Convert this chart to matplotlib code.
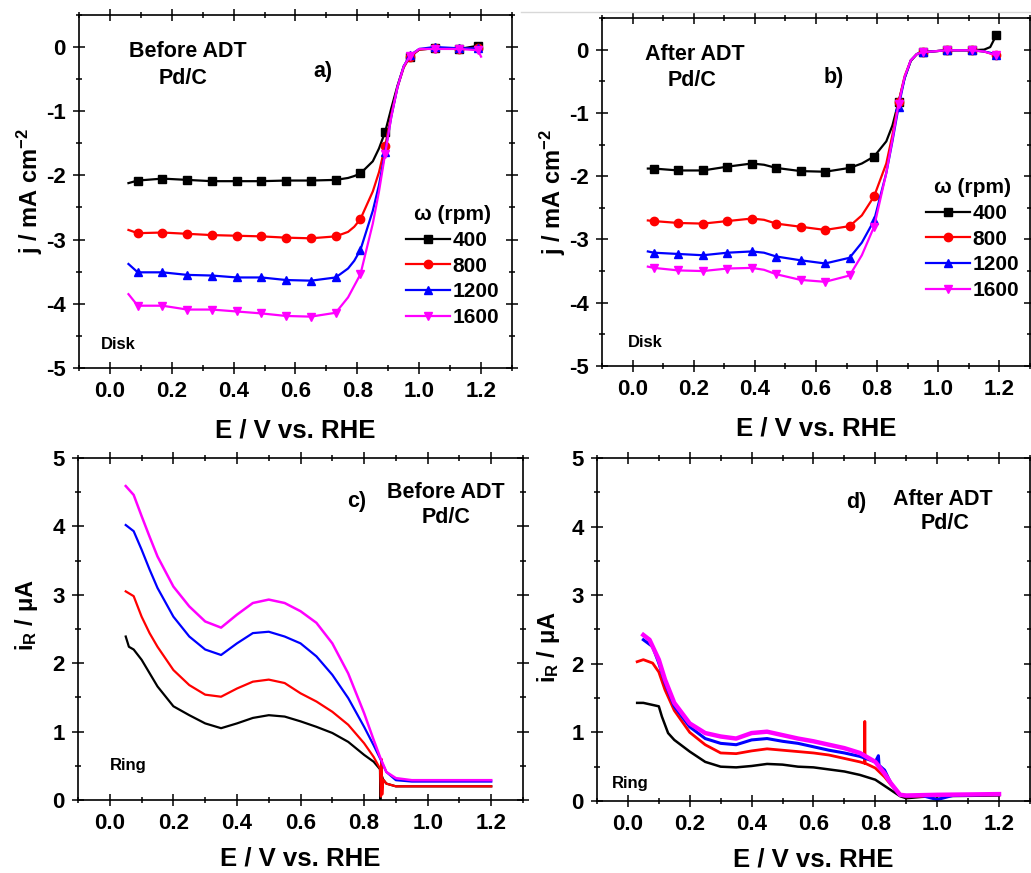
import numpy as np
import matplotlib
matplotlib.use("Agg")
import matplotlib.pyplot as plt
from matplotlib.ticker import MultipleLocator
from matplotlib.lines import Line2D

plt.rcParams['font.family'] = ['Liberation Sans', 'DejaVu Sans']
plt.rcParams['font.weight'] = 'bold'
plt.rcParams['axes.labelweight'] = 'bold'
plt.rcParams['mathtext.fontset'] = 'custom'
plt.rcParams['mathtext.rm'] = 'Liberation Sans:bold'
plt.rcParams['mathtext.bf'] = 'Liberation Sans:bold'
plt.rcParams['mathtext.it'] = 'Liberation Sans:bold'

rpm_labels = ['400', '800', '1200', '1600']
colors = ['black', 'red', 'blue', 'magenta']
markers = ['s', 'o', '^', 'v']

# ---- disk currents before ADT (panel a) ----
a_mx = [0.09, 0.17, 0.25, 0.33, 0.41, 0.49, 0.57, 0.65, 0.73, 0.81, 0.89, 0.97, 1.05, 1.13, 1.19]
a_my_400 = [-2.08, -2.05, -2.07, -2.09, -2.09, -2.09, -2.08, -2.08, -2.07, -1.97, -1.32, -0.15, -0.02, -0.03, 0.02]
a_my_800 = [-2.90, -2.89, -2.91, -2.93, -2.94, -2.95, -2.97, -2.98, -2.95, -2.68, -1.54, -0.15, -0.02, -0.03, -0.02]
a_my_1200 = [-3.51, -3.51, -3.55, -3.56, -3.59, -3.59, -3.63, -3.64, -3.59, -3.16, -1.63, -0.13, 0.0, -0.02, -0.02]
a_my_1600 = [-4.03, -4.03, -4.09, -4.09, -4.12, -4.15, -4.19, -4.20, -4.14, -3.54, -1.66, -0.14, -0.03, -0.03, -0.05]

a_lx = [0.06, 0.09, 0.17, 0.25, 0.33, 0.41, 0.49, 0.57, 0.65, 0.73, 0.77, 0.79, 0.81, 0.85, 0.87,
        0.89, 0.91, 0.93, 0.95, 0.97, 1.00, 1.05, 1.13, 1.19, 1.20]
a_ly_400 = [-2.12, -2.08, -2.05, -2.07, -2.09, -2.09, -2.09, -2.08, -2.08, -2.07, -2.04, -2.01, -1.97, -1.78, -1.58,
            -1.32, -0.95, -0.60, -0.30, -0.15, -0.04, -0.02, -0.03, 0.02, 0.02]
a_ly_800 = [-2.85, -2.90, -2.89, -2.91, -2.93, -2.94, -2.95, -2.97, -2.98, -2.95, -2.88, -2.80, -2.68, -2.25, -1.95,
            -1.54, -1.05, -0.62, -0.32, -0.15, -0.04, -0.02, -0.03, -0.02, -0.03]
a_ly_1200 = [-3.38, -3.51, -3.51, -3.55, -3.56, -3.59, -3.59, -3.63, -3.64, -3.59, -3.45, -3.33, -3.16, -2.55, -2.15,
             -1.63, -1.08, -0.62, -0.30, -0.13, -0.03, 0.0, -0.02, -0.02, -0.03]
a_ly_1600 = [-3.85, -4.03, -4.03, -4.09, -4.09, -4.12, -4.15, -4.19, -4.20, -4.14, -3.90, -3.72, -3.54, -2.75, -2.25,
             -1.66, -1.08, -0.62, -0.30, -0.14, -0.03, -0.03, -0.03, -0.05, -0.15]

# ---- disk currents after ADT (panel b) ----
b_mx = [0.07, 0.15, 0.23, 0.31, 0.39, 0.47, 0.55, 0.63, 0.71, 0.79, 0.87, 0.95, 1.03, 1.11, 1.19]
b_my_400 = [-1.88, -1.91, -1.91, -1.85, -1.80, -1.87, -1.92, -1.93, -1.87, -1.69, -0.83, -0.04, -0.01, -0.01, 0.23]
b_my_800 = [-2.71, -2.74, -2.75, -2.71, -2.67, -2.75, -2.80, -2.85, -2.79, -2.32, -0.83, -0.04, -0.01, -0.01, -0.09]
b_my_1200 = [-3.21, -3.23, -3.25, -3.21, -3.19, -3.27, -3.33, -3.38, -3.29, -2.70, -0.91, -0.04, -0.01, -0.01, -0.08]
b_my_1600 = [-3.45, -3.49, -3.50, -3.46, -3.45, -3.55, -3.64, -3.67, -3.57, -2.80, -0.86, -0.04, -0.01, -0.01, -0.09]

b_lx = [0.05, 0.07, 0.15, 0.23, 0.31, 0.39, 0.43, 0.47, 0.55, 0.63, 0.71, 0.75, 0.79, 0.83, 0.85,
        0.87, 0.89, 0.91, 0.93, 0.95, 1.03, 1.11, 1.15, 1.17, 1.19]
b_ly_400 = [-1.88, -1.88, -1.91, -1.91, -1.85, -1.80, -1.82, -1.87, -1.92, -1.93, -1.87, -1.80, -1.69, -1.45, -1.20,
            -0.83, -0.45, -0.18, -0.07, -0.04, -0.01, -0.01, 0.0, 0.04, 0.23]
b_ly_800 = [-2.70, -2.71, -2.74, -2.75, -2.71, -2.67, -2.69, -2.75, -2.80, -2.85, -2.79, -2.62, -2.32, -1.80, -1.35,
            -0.83, -0.42, -0.17, -0.07, -0.04, -0.01, -0.01, -0.03, -0.06, -0.09]
b_ly_1200 = [-3.19, -3.21, -3.23, -3.25, -3.21, -3.19, -3.21, -3.27, -3.33, -3.38, -3.29, -3.05, -2.70, -1.95, -1.45,
             -0.91, -0.45, -0.17, -0.07, -0.04, -0.01, -0.01, -0.03, -0.05, -0.08]
b_ly_1600 = [-3.43, -3.45, -3.49, -3.50, -3.46, -3.45, -3.48, -3.55, -3.64, -3.67, -3.57, -3.25, -2.80, -1.95, -1.42,
             -0.86, -0.43, -0.17, -0.07, -0.04, -0.01, -0.01, -0.03, -0.06, -0.09]

# ---- ring currents before ADT (panel c) ----
c_x = [0.05, 0.075, 0.10, 0.125, 0.15, 0.20, 0.25, 0.30, 0.35, 0.40, 0.45, 0.50, 0.55, 0.60,
       0.65, 0.70, 0.75, 0.80, 0.83, 0.85, 0.87, 0.90, 0.95, 1.00, 1.10, 1.20]
c_y_1600 = [4.59, 4.46, 4.15, 3.85, 3.56, 3.12, 2.83, 2.61, 2.52, 2.71, 2.88, 2.93, 2.88, 2.76,
            2.59, 2.29, 1.85, 1.27, 0.88, 0.63, 0.41, 0.32, 0.29, 0.29, 0.29, 0.29]
c_y_1200 = [4.02, 3.93, 3.66, 3.37, 3.10, 2.68, 2.39, 2.20, 2.12, 2.29, 2.44, 2.46, 2.39, 2.29,
            2.10, 1.83, 1.49, 1.07, 0.80, 0.61, 0.41, 0.29, 0.27, 0.27, 0.27, 0.27]
c_x_800 = [0.05, 0.075, 0.10, 0.125, 0.15, 0.20, 0.25, 0.30, 0.35, 0.40, 0.45, 0.50, 0.55, 0.60,
           0.65, 0.70, 0.75, 0.80, 0.83, 0.85, 0.853, 0.855, 0.857, 0.86, 0.87, 0.90, 1.00, 1.10, 1.20]
c_y_800 = [3.05, 2.98, 2.68, 2.44, 2.24, 1.90, 1.68, 1.54, 1.51, 1.63, 1.73, 1.76, 1.71, 1.56,
           1.44, 1.29, 1.10, 0.83, 0.63, 0.46, 0.05, 0.60, 0.08, 0.30, 0.24, 0.20, 0.20, 0.20, 0.20]
c_x_400 = [0.05, 0.06, 0.075, 0.10, 0.15, 0.20, 0.25, 0.30, 0.35, 0.40, 0.45, 0.50, 0.55, 0.60,
           0.65, 0.70, 0.75, 0.80, 0.83, 0.85, 0.851, 0.852, 0.86, 0.87, 0.90, 1.00, 1.10, 1.20]
c_y_400 = [2.39, 2.24, 2.20, 2.05, 1.66, 1.37, 1.24, 1.12, 1.05, 1.12, 1.20, 1.24, 1.22, 1.15,
           1.07, 0.98, 0.85, 0.66, 0.56, 0.45, 0.0, 0.40, 0.30, 0.24, 0.20, 0.20, 0.20, 0.20]

# ---- ring currents after ADT (panel d) ----
d_x_400 = [0.03, 0.05, 0.08, 0.10, 0.11, 0.13, 0.15, 0.20, 0.25, 0.30, 0.35, 0.40, 0.45, 0.50,
           0.55, 0.60, 0.65, 0.70, 0.75, 0.80, 0.85, 0.88, 0.90, 0.95, 1.00, 1.20]
d_y_400 = [1.43, 1.43, 1.40, 1.38, 1.23, 0.99, 0.89, 0.72, 0.57, 0.50, 0.49, 0.51, 0.54, 0.53,
           0.50, 0.49, 0.46, 0.43, 0.38, 0.31, 0.16, 0.07, 0.04, 0.06, 0.07, 0.08]
d_x_800 = [0.03, 0.05, 0.08, 0.10, 0.12, 0.15, 0.20, 0.25, 0.30, 0.35, 0.40, 0.45, 0.50, 0.55,
           0.60, 0.65, 0.70, 0.75, 0.765, 0.766, 0.767, 0.80, 0.83, 0.85, 0.88, 0.90, 1.00, 1.20]
d_y_800 = [2.03, 2.06, 2.01, 1.88, 1.62, 1.32, 1.00, 0.82, 0.70, 0.69, 0.73, 0.76, 0.74, 0.72,
           0.70, 0.67, 0.62, 0.57, 0.55, 1.16, 0.55, 0.48, 0.35, 0.24, 0.10, 0.06, 0.08, 0.10]
d_x_1200 = [0.05, 0.08, 0.10, 0.12, 0.15, 0.20, 0.25, 0.30, 0.35, 0.40, 0.45, 0.50, 0.55, 0.60,
            0.65, 0.70, 0.75, 0.80, 0.81, 0.812, 0.83, 0.85, 0.88, 0.90, 0.95, 1.00, 1.05, 1.20]
d_y_1200 = [2.35, 2.25, 2.01, 1.72, 1.38, 1.08, 0.91, 0.84, 0.82, 0.89, 0.91, 0.87, 0.84, 0.79,
            0.74, 0.70, 0.65, 0.57, 0.66, 0.52, 0.45, 0.26, 0.09, 0.07, 0.08, 0.02, 0.08, 0.10]
d_x_1600 = [0.05, 0.07, 0.10, 0.12, 0.15, 0.20, 0.25, 0.30, 0.35, 0.40, 0.45, 0.50, 0.55, 0.60,
            0.65, 0.70, 0.75, 0.80, 0.83, 0.85, 0.88, 0.90, 1.00, 1.20]
d_y_1600 = [2.42, 2.35, 2.06, 1.77, 1.43, 1.13, 0.99, 0.94, 0.91, 0.99, 1.01, 0.96, 0.91, 0.87,
            0.82, 0.77, 0.70, 0.57, 0.40, 0.26, 0.09, 0.08, 0.09, 0.10]


def style_axes(ax, ymin, ymax, ymajor, yminor, xpad):
    ax.set_xlim(-0.1, 1.3)
    ax.set_ylim(ymin, ymax)
    ax.xaxis.set_major_locator(MultipleLocator(0.2))
    ax.xaxis.set_minor_locator(MultipleLocator(0.1))
    ax.yaxis.set_major_locator(MultipleLocator(ymajor))
    ax.yaxis.set_minor_locator(MultipleLocator(yminor))
    ax.set_xticks([0.0, 0.2, 0.4, 0.6, 0.8, 1.0, 1.2])
    ax.tick_params(which='both', direction='inout', top=True, right=True, width=1.1,
                   labelsize=16, pad=5)
    ax.tick_params(which='major', length=9)
    ax.tick_params(which='minor', length=5)
    for s in ax.spines.values():
        s.set_linewidth(1.2)
    ax.set_xlabel('E / V vs. RHE', fontsize=18.5, labelpad=xpad)


fig = plt.figure(figsize=(10.31, 8.73), dpi=100)

ax_a = fig.add_axes([0.0766, 0.5785, 0.42, 0.4044])
ax_b = fig.add_axes([0.5839, 0.5808, 0.4151, 0.3986])
ax_c = fig.add_axes([0.0757, 0.0836, 0.4316, 0.3918])
ax_d = fig.add_axes([0.5790, 0.0825, 0.4200, 0.3929])

# disk panels: lines plus markers at the sampled points
disk_a = [(a_ly_400, a_my_400), (a_ly_800, a_my_800), (a_ly_1200, a_my_1200), (a_ly_1600, a_my_1600)]
disk_b = [(b_ly_400, b_my_400), (b_ly_800, b_my_800), (b_ly_1200, b_my_1200), (b_ly_1600, b_my_1600)]

for ax, lx, mx, sets in [(ax_a, a_lx, a_mx, disk_a), (ax_b, b_lx, b_mx, disk_b)]:
    handles = []
    for (ly, my), c, m, lab in zip(sets, colors, markers, rpm_labels):
        ax.plot(lx, ly, '-', color=c, lw=1.6)
        ax.plot(mx, my, m, color=c, ms=6, mec=c)
        handles.append(Line2D([], [], color=c, lw=1.6, marker=m, ms=6, label=lab))
    style_axes(ax, -5, 0.5, 1, 0.5, 12)
    ax.set_ylabel('j / mA cm$^{-2}$', fontsize=17, labelpad=1)
    ax.yaxis.set_major_formatter(matplotlib.ticker.FuncFormatter(lambda v, p: f'{v:.0f}'))
    ax.text(0.05 if ax is ax_a else 0.06, 0.045, 'Disk', transform=ax.transAxes,
            fontsize=12, ha='left', va='bottom')
    anchor = (0.755, 0.461) if ax is ax_a else (0.757, 0.539)
    ax.legend(handles=handles, title='ω (rpm)', loc='upper left', bbox_to_anchor=anchor,
              frameon=False, fontsize=15, title_fontsize=15, handlelength=2.1,
              handletextpad=0.15, labelspacing=0.32, borderpad=0, borderaxespad=0)

ax_a.text(0.252, 0.895, 'Before ADT', transform=ax_a.transAxes, fontsize=15.5, ha='center', va='center')
ax_a.text(0.240, 0.819, 'Pd/C', transform=ax_a.transAxes, fontsize=15.5, ha='center', va='center')
ax_a.text(0.563, 0.841, 'a)', transform=ax_a.transAxes, fontsize=15.5, ha='center', va='center')

ax_b.text(0.216, 0.894, 'After ADT', transform=ax_b.transAxes, fontsize=15.5, ha='center', va='center')
ax_b.text(0.211, 0.819, 'Pd/C', transform=ax_b.transAxes, fontsize=15.5, ha='center', va='center')
ax_b.text(0.541, 0.828, 'b)', transform=ax_b.transAxes, fontsize=15.5, ha='center', va='center')

# ring panels
ax_c.plot(c_x_400, c_y_400, color='black', lw=1.6)
ax_c.plot(c_x_800, c_y_800, color='red', lw=1.6)
ax_c.plot(c_x, c_y_1200, color='blue', lw=1.6)
ax_c.plot(c_x, c_y_1600, color='magenta', lw=1.8)

ax_d.plot(d_x_400, d_y_400, color='black', lw=1.8)
ax_d.plot(d_x_800, d_y_800, color='red', lw=2.0)
ax_d.plot(d_x_1200, d_y_1200, color='blue', lw=2.2)
ax_d.plot(d_x_1600, d_y_1600, color='magenta', lw=3.2)

for ax, lx, ly in ((ax_c, -0.085, 0.54), (ax_d, -0.08, 0.45)):
    style_axes(ax, 0, 5, 1, 0.5, 9)
    ax.set_ylabel(r'i$_{\mathregular{R}}$ / μA', fontsize=17)
    ax.yaxis.set_label_coords(lx, ly)

ax_c.text(0.112, 0.102, 'Ring', transform=ax_c.transAxes, fontsize=12, ha='center', va='center')
ax_c.text(0.626, 0.874, 'c)', transform=ax_c.transAxes, fontsize=15.5, ha='center', va='center')
ax_c.text(0.826, 0.898, 'Before ADT', transform=ax_c.transAxes, fontsize=15.5, ha='center', va='center')
ax_c.text(0.828, 0.825, 'Pd/C', transform=ax_c.transAxes, fontsize=15.5, ha='center', va='center')

ax_d.text(0.076, 0.052, 'Ring', transform=ax_d.transAxes, fontsize=12, ha='center', va='center')
ax_d.text(0.599, 0.869, 'd)', transform=ax_d.transAxes, fontsize=15.5, ha='center', va='center')
ax_d.text(0.798, 0.880, 'After ADT', transform=ax_d.transAxes, fontsize=15.5, ha='center', va='center')
ax_d.text(0.805, 0.810, 'Pd/C', transform=ax_d.transAxes, fontsize=15.5, ha='center', va='center')

# thin grey rule above the right-hand disk panel
fig.add_artist(Line2D([0.505, 1.0], [0.986, 0.986], transform=fig.transFigure,
                      color='#d8d8d8', lw=1.0))

fig.savefig('out.png', dpi=100)
